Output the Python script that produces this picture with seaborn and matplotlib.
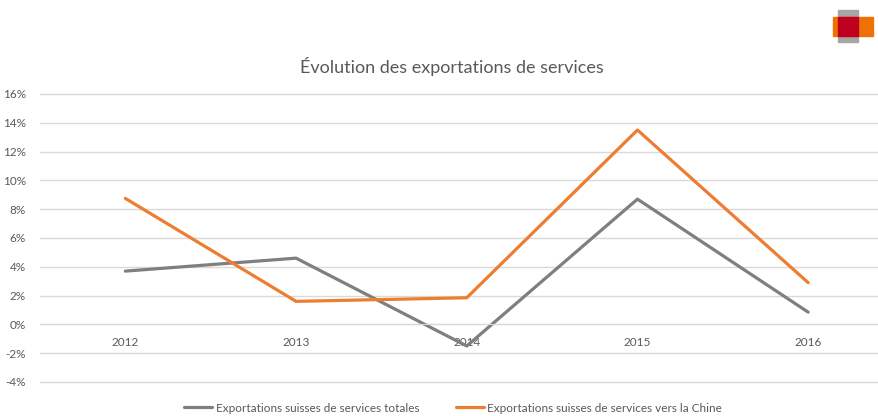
import pandas as pd
import numpy as np
import seaborn as sns
import matplotlib.pyplot as plt
from matplotlib.patches import Rectangle
from matplotlib.ticker import FuncFormatter

years = ["2012", "2013", "2014", "2015", "2016"]
totales = [3.7, 4.6, -1.5, 8.7, 0.85]
chine = [8.75, 1.6, 1.85, 13.5, 2.9]
labels = ["Exportations suisses de services totales",
          "Exportations suisses de services vers la Chine"]
colors = ["#7f7f7f", "#ed7d31"]

df = pd.DataFrame({"year": years * 2,
                   "value": np.array(totales + chine) / 100,
                   "serie": [labels[0]] * 5 + [labels[1]] * 5})
df["x"] = df["year"].map({y: i for i, y in enumerate(years)})

sns.set_style("white")
plt.rcParams["font.family"] = ["Lato", "DejaVu Sans"]

fig = plt.figure(figsize=(8.79, 4.16), dpi=100)
ax = fig.add_axes([40 / 879, 34 / 416, 839 / 879, 288 / 416])

sns.lineplot(data=df, x="x", y="value", hue="serie", palette=colors,
             linewidth=2.3, ax=ax, legend=False)

ax.set_xlim(-0.5, 4.415)
ax.set_ylim(-0.04, 0.16)
ax.set_yticks(np.arange(-0.04, 0.161, 0.02))
ax.yaxis.set_major_formatter(FuncFormatter(lambda v, p: f"{v*100:.0f}%"))
ax.grid(axis="y", color="#d9d9d9", linewidth=1)
ax.set_axisbelow(True)
for gl in ax.get_ygridlines():
    gl.set_clip_on(False)
for s in ["top", "right", "left"]:
    ax.spines[s].set_visible(False)
ax.spines["bottom"].set_position(("data", 0))
ax.spines["bottom"].set_color("#d9d9d9")
ax.set_xticks(range(len(years)))
ax.set_xticklabels(years)
ax.tick_params(axis="both", length=0, labelsize=8.5, labelcolor="#595959")
ax.tick_params(axis="x", pad=9)
ax.tick_params(axis="y", pad=10)
ax.set_xlabel("")
ax.set_ylabel("")

fig.text(452 / 879, 1 - 66 / 416, "Évolution des exportations de services",
         ha="center", va="center", fontsize=13, color="#595959")

handles = [plt.Line2D([], [], color=c, linewidth=2.3) for c in colors]
fig.legend(handles, labels, loc="center", bbox_to_anchor=(453 / 879, 1 - 408 / 416),
           ncol=2, frameon=False, fontsize=8.5, labelcolor="#595959",
           handlelength=2.4, handletextpad=0.3, columnspacing=3.1)

# logo
fig.patches.append(Rectangle((838 / 879, 1 - 42 / 416), 20 / 879, 32 / 416,
                             transform=fig.transFigure, color="#a6a6a6"))
fig.patches.append(Rectangle((833 / 879, 1 - 36 / 416), 40 / 879, 19 / 416,
                             transform=fig.transFigure, color="#ee7203"))
fig.patches.append(Rectangle((838 / 879, 1 - 36 / 416), 20 / 879, 19 / 416,
                             transform=fig.transFigure, color="#c0001f"))

plt.savefig("out.png", dpi=100)
